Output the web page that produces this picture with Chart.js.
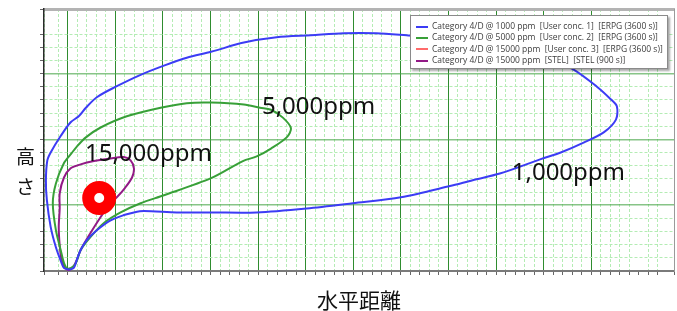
<!DOCTYPE html>
<html lang="ja">
<head>
    <meta charset="UTF-8">
    <title>Plume footprint</title>
    <script src="https://cdn.jsdelivr.net/npm/chart.js@4.4.1/dist/chart.umd.min.js"></script>
    <style>
        html, body { margin: 0; padding: 0; background: #ffffff; }
        #wrap { position: relative; width: 677px; height: 311px; overflow: hidden; }
        #y-title {
            position: absolute; left: 16px; top: 141px;
            font-family: "Noto Sans CJK JP", sans-serif; font-size: 19px;
            line-height: 30px; color: #111;
        }
        #legend {
            position: absolute; left: 410px; top: 15px; width: 258px; height: 54px;
            box-sizing: border-box; background: #fff; border: 1px solid #8a8a8a;
            box-shadow: 2px 2px 2px rgba(0,0,0,.35);
            padding: 4px 0 0 5px;
            font-family: "Open Sans", sans-serif; font-size: 9px; color: #3c3c3c;
        }
        .item { height: 11.3px; line-height: 11.3px; white-space: pre; }
        .swatch { display: inline-block; width: 12px; height: 2px; vertical-align: middle; margin-right: 4px; }
    </style>
</head>
<body>
<div id="wrap">
    <canvas id="plume" width="677" height="311"></canvas>
    <div id="y-title">高<br>さ</div>
    <div id="legend"></div>
</div>
<script>
    // contour outlines (x = downwind distance, y = height)
    const ppm1000X = [0.4, -0.8, -1.3, -2.5, -3.6, -4.4, -4.6, -4.3, -3.6, -1.5, 0.6, 2.3, 3.8, 6.1, 10.1, 15.3, 20.2, 25.0, 30.1, 37.0, 43.9, 51.1, 58.0, 64.9, 71.2, 80.3, 90.8, 99.2, 106.3, 111.2, 114.1, 115.4, 115.2, 112.7, 108.4, 103.6, 99.4, 90.8, 85.1, 80.3, 70.0, 59.9, 50.2, 39.7, 30.1, 22.9, 16.0, 13.9, 11.8, 9.0, 6.1, 4.0, 2.7, 1.9, 1.3];
    const ppm1000Y = [0.2, 0.45, 1.2, 3.6, 6.7, 10.8, 13.8, 16.8, 18.0, 20.5, 22.6, 23.5, 24.8, 26.4, 28.0, 29.8, 31.2, 32.4, 33.3, 34.7, 35.5, 35.8, 36.1, 36.1, 35.8, 35.3, 34.4, 33.0, 30.6, 28.0, 26.1, 25.0, 23.0, 21.1, 19.5, 18.0, 17.0, 14.8, 13.8, 12.9, 11.2, 10.3, 9.5, 8.9, 8.9, 8.9, 9.1, 8.9, 8.5, 7.7, 6.2, 4.7, 3.2, 1.7, 0.5];

    const ppm5000X = [-0.2, -0.8, -1.5, -2.5, -3.15, -2.5, -0.8, 0.8, 1.9, 3.8, 6.9, 12.4, 19.5, 25.0, 30.1, 37.0, 40.4, 42.7, 45.2, 46.9, 46.0, 42.7, 39.7, 36.8, 30.1, 20.2, 15.3, 11.1, 7.6, 4.8, 2.7, 1.7, 0.8];
    const ppm5000Y = [0.3, 1.2, 3.2, 6.2, 10.3, 13.3, 16.4, 17.9, 18.9, 20.3, 21.8, 23.5, 24.8, 25.5, 25.6, 25.3, 24.8, 24.5, 23.3, 21.7, 20.3, 18.6, 17.4, 16.7, 14.1, 11.5, 10.3, 8.9, 7.3, 5.2, 3.2, 1.2, 0.5];

    const ppm15000X = [6.6];
    const ppm15000Y = [11.1];

    const stelX = [-0.4, -1.3, -1.7, -1.9, -1.7, -1.7, -0.8, 0.6, 2.7, 5.5, 9.0, 11.8, 13.2, 13.9, 13.5, 12.0, 10.3, 8.6, 6.9, 4.8, 2.7, 1.9, 1.05, 0.2];
    const stelY = [0.3, 1.7, 3.9, 6.7, 9.5, 11.8, 14.2, 15.6, 16.2, 16.7, 17.1, 17.3, 16.8, 15.6, 14.2, 12.6, 11.2, 10.0, 8.2, 5.8, 3.2, 1.7, 0.5, 0.15];

    const seriesLabels = [
        "Category 4/D @ 1000 ppm  [User conc. 1]  [ERPG (3600 s)]",
        "Category 4/D @ 5000 ppm  [User conc. 2]  [ERPG (3600 s)]",
        "Category 4/D @ 15000 ppm  [User conc. 3]  [ERPG (3600 s)]",
        "Category 4/D @ 15000 ppm  [STEL]  [STEL (900 s)]"
    ];

    // contour captions, anchored at data coordinates
    const captionText = ["5,000ppm", "15,000ppm", "1,000ppm"];
    const captionX = [40.8, 3.6, 93.3];
    const captionY = [23.9, 16.7, 13.8];

    const xMin = -5, xMax = 127.4, yMin = 0, yMax = 39.8;

    const loop = (xs, ys) => {
        const pts = xs.map((x, i) => ({x: x, y: ys[i]}));
        pts.push({x: xs[0], y: ys[0]});
        return pts;
    };

    const captions = {
        id: 'captions',
        afterDatasetsDraw(chart) {
            const {ctx, scales} = chart;
            ctx.save();
            ctx.font = '24px "Noto Sans"';
            ctx.fillStyle = '#111';
            ctx.textBaseline = 'alphabetic';
            captionText.forEach((t, i) => {
                ctx.fillText(t, scales.x.getPixelForValue(captionX[i]), scales.y.getPixelForValue(captionY[i]));
            });
            ctx.restore();
        }
    };

    const minorGrid = {color: '#b4ecb4', lineWidth: 1, drawTicks: true, tickLength: 4, tickColor: '#666'};
    const lineDefaults = {showLine: true, pointRadius: 0, borderWidth: 2, tension: 0.3, fill: false};

    const chart = new Chart(document.getElementById('plume'), {
        type: 'scatter',
        data: {
            datasets: [
                Object.assign({label: seriesLabels[0], data: loop(ppm1000X, ppm1000Y), borderColor: '#3c3cf5'}, lineDefaults),
                Object.assign({label: seriesLabels[1], data: loop(ppm5000X, ppm5000Y), borderColor: '#38a038'}, lineDefaults),
                {
                    label: seriesLabels[2],
                    data: ppm15000X.map((x, i) => ({x: x, y: ppm15000Y[i]})),
                    borderColor: '#ff6b6b',
                    showLine: false,
                    pointRadius: 11,
                    pointBorderWidth: 12,
                    pointBorderColor: '#ff0000',
                    pointBackgroundColor: '#ffffff',
                    order: -1
                },
                Object.assign({label: seriesLabels[3], data: loop(stelX, stelY), borderColor: '#921a86'}, lineDefaults)
            ]
        },
        options: {
            responsive: false,
            animation: false,
            events: [],
            layout: {autoPadding: false, padding: {left: 40, right: 3, top: 9, bottom: 0}},
            plugins: {legend: {display: false}, tooltip: {enabled: false}},
            scales: {
                x: {
                    type: 'linear', position: 'bottom', min: xMin, max: xMax,
                    ticks: {display: false, stepSize: 2},
                    grid: Object.assign({}, minorGrid, {
                        color: c => (c.tick && c.tick.value % 10 === 0) ? 'rgba(0,0,0,0)' : '#b4ecb4'
                    }),
                    border: {color: '#7a7a7a', width: 2, dash: [3, 2]},
                    title: {
                        display: true, text: '水平距離', color: '#111',
                        font: {family: '"Noto Sans CJK JP"', size: 21, lineHeight: 1},
                        padding: {top: 15, bottom: 0}
                    }
                },
                xMajor: {
                    type: 'linear', position: 'bottom', min: xMin, max: xMax,
                    ticks: {display: false, stepSize: 10},
                    grid: {
                        drawTicks: false, lineWidth: 1,
                        color: c => (c.tick && c.tick.value % 10 === 0) ? '#2f8c2f' : 'rgba(0,0,0,0)'
                    },
                    border: {display: false}
                },
                xTop: {
                    type: 'linear', position: 'top', min: xMin, max: xMax,
                    ticks: {display: false},
                    grid: {drawOnChartArea: false, drawTicks: false},
                    border: {color: '#b3b3b3', width: 3}
                },
                y: {
                    type: 'linear', position: 'left', min: yMin, max: yMax,
                    ticks: {display: false, stepSize: 2},
                    grid: Object.assign({}, minorGrid, {
                        color: c => (c.tick && c.tick.value % 10 === 0) ? 'rgba(0,0,0,0)' : '#b4ecb4'
                    }),
                    border: {color: '#2a2a2a', width: 1.5, dash: [3, 2]}
                },
                yMajor: {
                    type: 'linear', position: 'left', min: yMin, max: yMax,
                    ticks: {display: false, stepSize: 10},
                    grid: {
                        drawTicks: false, lineWidth: 1.6,
                        color: c => (c.tick && c.tick.value % 10 === 0 && c.tick.value > 0) ? 'rgba(70,165,70,0.65)' : 'rgba(0,0,0,0)'
                    },
                    border: {display: false}
                },
                yRight: {
                    type: 'linear', position: 'right', min: yMin, max: yMax,
                    ticks: {display: false},
                    grid: {drawOnChartArea: false, drawTicks: false},
                    border: {color: '#9a9a9a', width: 1}
                }
            }
        },
        plugins: [captions]
    });

    // HTML legend built from the chart's datasets; text sized so the first row is ~226px wide
    const legendBox = document.getElementById('legend');
    const probe = document.createElement('canvas').getContext('2d');
    probe.font = '10px "Open Sans"';
    const legendSize = Math.min(9.6, 10 * 226 / probe.measureText(seriesLabels[0]).width);
    legendBox.style.fontSize = legendSize.toFixed(2) + 'px';
    chart.data.datasets.forEach(ds => {
        const row = document.createElement('div');
        row.className = 'item';
        const sw = document.createElement('span');
        sw.className = 'swatch';
        sw.style.background = ds.borderColor;
        row.appendChild(sw);
        row.appendChild(document.createTextNode(ds.label));
        legendBox.appendChild(row);
    });
</script>
</body>
</html>
